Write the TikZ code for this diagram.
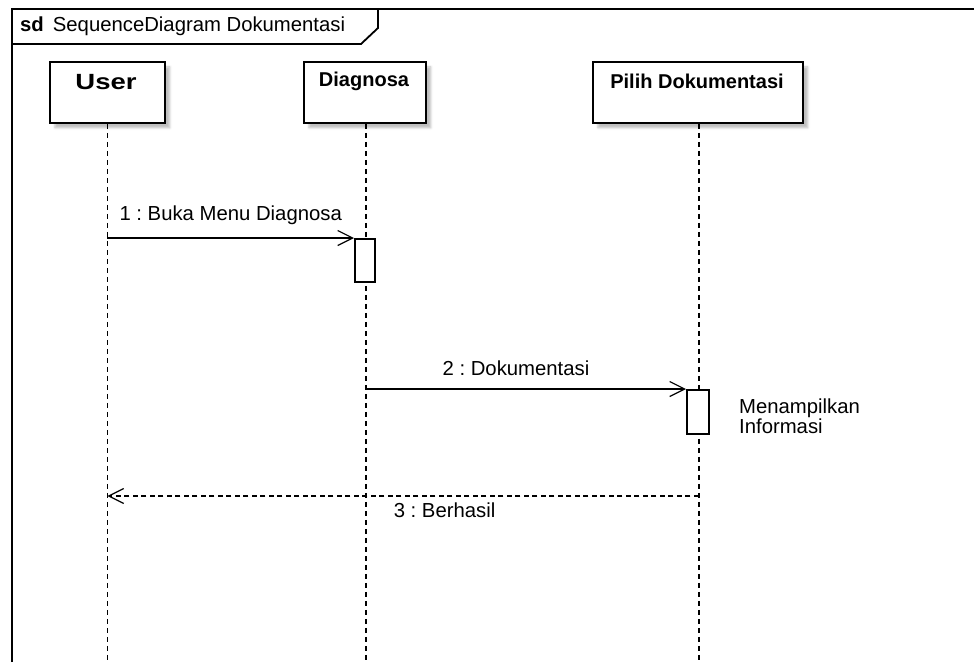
\documentclass[tikz,border=0pt]{standalone}
\usepackage{fontspec}
\setmainfont{Liberation Sans}
\newfontfamily\widefont{Liberation Sans}[FakeStretch=1.25]
\usetikzlibrary{arrows.meta,shadows.blur}
\frenchspacing

\tikzset{
  frameline/.style={line width=1.8pt, black},
  headbox/.style={draw, line width=1.8pt, fill=white, anchor=north west,
    inner sep=0pt, blur shadow={shadow xshift=5pt, shadow yshift=-5pt,
    shadow opacity=25, shadow blur steps=4}},
  headtext/.style={font=\bfseries\fontsize{20}{24}\selectfont, inner sep=0pt},
  lifeline/.style={line width=1.2pt, dash pattern=on 5pt off 4pt},
  actbox/.style={draw, line width=1.6pt, fill=white, anchor=north west,
    inner sep=0pt, minimum width=20pt},
  msg/.style={line width=1.2pt, -{Straight Barb[length=15pt,width=15pt,line width=1.2pt]}},
  reply/.style={line width=1.2pt, dash pattern=on 5pt off 3.5pt,
    -{Straight Barb[length=15pt,width=15pt,line width=1.2pt]}},
  msgtext/.style={font=\fontsize{20.3}{24}\selectfont, inner sep=0pt},
}

\begin{document}
\begin{tikzpicture}[x=1pt, y=-1pt]
  \useasboundingbox (0,0) rectangle (974,662);
  \coordinate (bottom) at (0,662);

  % frame with its name tab
  \draw[frameline] (12,662) -- (12,9) -- (974,9);
  \draw[frameline] (12,44) -- (361,44) -- (378,28) -- (378,9);
  \node[anchor=west, inner sep=0pt, font=\fontsize{20.3}{24}\selectfont] (title) at (20,26)
    {\textbf{sd}\hspace{9pt}SequenceDiagram Dokumentasi};

  % lifeline heads
  \node[headbox, minimum width=115pt, minimum height=61pt] (user) at (49,61) {};
  \node[headbox, minimum width=122pt, minimum height=61pt] (diag) at (303,61) {};
  \node[headbox, minimum width=210pt, minimum height=61pt] (pilih) at (592,61) {};
  \node[inner sep=0pt, font=\widefont\bfseries\fontsize{22}{26}\selectfont] (userlbl) at (106,82) {User};
  \node[headtext] (diaglbl) at (364,81) {Diagnosa};
  \node[headtext] (pilihlbl) at (697,81) {Pilih Dokumentasi};

  % lifelines
  \draw[lifeline] (user.south) -- (user.south |- bottom);
  \draw[lifeline] ([xshift=1pt]diag.south) -- ([xshift=1pt]diag.south |- bottom);
  \draw[lifeline] ([xshift=1pt]pilih.south) -- ([xshift=1pt]pilih.south |- bottom);

  % activations
  \node[actbox, minimum height=43pt] (act1) at (354,238) {};
  \node[actbox, minimum width=22pt, minimum height=44pt] (act2) at (686,389) {};

  % messages
  \draw[msg] (user.south |- act1.north west) -- (act1.north west)
    node[msgtext, midway, above=13pt] (m1) {1 : Buka Menu Diagnosa};
  \draw[msg] ([xshift=1pt]diag.south |- act2.north west) -- (act2.north west)
    node[msgtext, midway, above=13pt, xshift=-10pt] (m2) {2 : Dokumentasi};
  \node[msgtext, anchor=west, align=left, font=\fontsize{20.3}{18}\selectfont] (note) at (739,416)
    {Menampilkan\\Informasi};

  \coordinate (r3) at ([xshift=1pt]pilih.south |- 0,496);
  \draw[reply] (r3) -- (user.south |- r3)
    node[msgtext, pos=0.43, below=6pt] (m3) {3 : Berhasil};
\end{tikzpicture}
\end{document}
